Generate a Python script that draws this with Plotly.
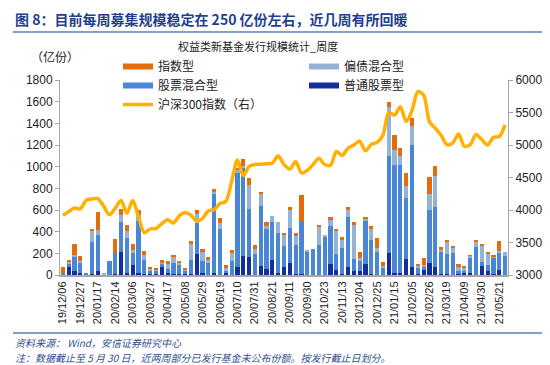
import plotly.graph_objects as go

dates = ["19/12/06","19/12/13","19/12/20","19/12/27","20/01/03","20/01/10","20/01/17","20/01/23",
         "20/02/07","20/02/14","20/02/21","20/02/28","20/03/06","20/03/13","20/03/20","20/03/27",
         "20/04/03","20/04/10","20/04/17","20/04/24","20/04/30","20/05/08","20/05/15","20/05/22",
         "20/05/29","20/06/05","20/06/12","20/06/19","20/06/24","20/07/03","20/07/10","20/07/17",
         "20/07/24","20/07/31","20/08/07","20/08/14","20/08/21","20/08/28","20/09/04","20/09/11",
         "20/09/18","20/09/25","20/09/30","20/10/09","20/10/16","20/10/23","20/10/30","20/11/06",
         "20/11/13","20/11/20","20/11/27","20/12/04","20/12/11","20/12/18","20/12/25","20/12/31",
         "21/01/08","21/01/15","21/01/22","21/01/29","21/02/05","21/02/10","21/02/19","21/02/26",
         "21/03/05","21/03/12","21/03/19","21/03/26","21/04/02","21/04/09","21/04/16","21/04/23",
         "21/04/30","21/05/07","21/05/14","21/05/21","21/05/28"]

# 普通股票型
common_stock = [5,70,35,18,5,12,40,0,0,10,210,18,90,18,5,8,5,77,18,5,10,12,5,194,18,0,18,0,18,0,
                70,172,166,0,80,58,141,18,70,110,12,8,0,0,0,0,101,43,9,71,40,40,101,10,0,0,
                203,20,18,147,70,10,49,111,74,9,5,0,9,18,18,0,80,34,8,43,0]
# 股票混合型
stock_mixed = [10,40,130,90,8,290,325,5,125,195,283,323,117,483,136,30,35,25,37,106,86,28,135,286,114,108,
               730,427,22,132,875,820,442,197,553,369,347,369,194,323,267,490,220,243,280,347,347,154,240,461,
               108,92,393,310,212,70,891,997,999,562,1131,60,30,492,550,209,192,203,25,21,144,255,40,61,155,169,178]
# 偏债混合型
bond_mixed = [0,10,22,25,0,108,46,12,0,0,58,68,25,55,40,18,10,15,50,52,15,12,145,83,80,30,
              21,52,25,77,25,18,224,46,117,28,58,98,108,166,89,0,8,0,166,21,65,206,80,71,
              316,25,31,108,37,12,461,138,86,114,175,18,15,147,286,15,114,52,43,25,18,49,144,101,5,12,34]
# 指数型
index_fund = [60,18,100,40,0,15,170,0,0,125,62,55,50,43,37,22,15,18,20,25,18,12,30,37,25,25,
              21,46,25,18,15,58,61,31,15,31,0,0,12,25,18,240,0,0,18,0,18,21,18,21,
              25,55,15,21,92,37,40,138,68,123,71,12,61,154,92,25,9,15,28,21,3,21,25,15,15,86,0]
# 沪深300指数
hs300 = [3918,3975,4030,4018,4150,4170,4175,4060,3927,4030,4145,3950,4145,3890,3650,3710,
         3715,3790,3850,3800,3910,3960,3920,3830,3870,3990,4005,4100,4130,4440,4770,4530,
         4670,4700,4705,4710,4720,4835,4700,4630,4745,4570,4610,4700,4795,4700,4690,4900,
         4840,4950,5000,5060,4910,5010,5040,5150,5500,5460,5590,5360,5530,5820,5770,5360,
         5260,5150,5005,5030,5170,4980,5005,5160,5080,5000,5120,5130,5310]

tick_labels = dates[::3]

C_IDX = "#E46C0A"
C_BOND = "#95B3D7"
C_MIX = "#4A86D6"
C_COMMON = "#13309A"
C_LINE = "#FFB000"

FONT = "Liberation Sans, Arial, Noto Sans CJK SC, sans-serif"
CJK = "Noto Sans CJK SC, sans-serif"

PT, PH, PL, PW = 72, 195, 52, 448


def py(ypix):
    return 1 + (PT - ypix) / PH


def px(xpix):
    return (xpix - PL) / PW


fig = go.Figure()
for name, vals, col in [("普通股票型", common_stock, C_COMMON), ("股票混合型", stock_mixed, C_MIX),
                        ("偏债混合型", bond_mixed, C_BOND), ("指数型", index_fund, C_IDX)]:
    fig.add_trace(go.Bar(x=dates, y=vals, name=name, marker=dict(color=col, line=dict(width=0)),
                         showlegend=False))

# legend entries (Excel-style thick bar symbols)
for name, col in [("指数型", C_IDX), ("偏债混合型", C_BOND), ("股票混合型", C_MIX), ("普通股票型", C_COMMON)]:
    fig.add_trace(go.Scatter(x=[None], y=[None], mode="lines", name=name,
                             line=dict(color=col, width=6), showlegend=True))

fig.add_trace(go.Scatter(x=dates, y=hs300, name="沪深300指数（右）", mode="lines", yaxis="y2",
                         line=dict(color=C_LINE, width=3.5, shape="spline", smoothing=0.8)))

fig.update_layout(
    width=550, height=365,
    margin=dict(l=PL, r=50, t=PT, b=98),
    paper_bgcolor="white", plot_bgcolor="white",
    barmode="stack", bargap=0.28,
    font=dict(family=FONT, size=12, color="#222"),
    xaxis=dict(type="category", categoryorder="array", categoryarray=dates,
               tickmode="array", tickvals=tick_labels, ticktext=tick_labels,
               tickangle=-90, tickfont=dict(size=11, color="#222"),
               showline=True, linecolor="#A6A6A6", linewidth=2, ticks="", showgrid=False,
               range=[-0.5, len(dates) - 0.5], automargin=False),
    yaxis=dict(range=[0, 1800], dtick=200, showgrid=False, showline=True, linecolor="#A6A6A6",
               linewidth=1, ticks="outside", ticklen=4, tickcolor="#A6A6A6",
               tickfont=dict(size=12, color="#222"), zeroline=False, automargin=False),
    yaxis2=dict(range=[3000, 6000], dtick=500, overlaying="y", side="right", showgrid=False,
                showline=True, linecolor="#A6A6A6", linewidth=1, ticks="outside", ticklen=4,
                tickcolor="#A6A6A6", tickfont=dict(size=12, color="#222"), zeroline=False,
                automargin=False),
    legend=dict(orientation="h", x=px(110), xanchor="left", y=py(44), yanchor="top",
                entrywidth=141, entrywidthmode="pixels", bgcolor="rgba(0,0,0,0)",
                traceorder="normal",
                font=dict(family=CJK, size=12, color="#222"), itemclick=False, tracegroupgap=0),
)

# title line
fig.add_annotation(xref="paper", yref="paper", x=px(5), y=py(11), xanchor="left",
                   yanchor="middle", showarrow=False,
                   text="<b>图 8：目前每周募集规模稳定在 250 亿份左右，近几周有所回暖</b>",
                   font=dict(family=CJK, size=14, color="#1F3F8F"))
fig.add_shape(type="line", xref="paper", yref="paper", x0=px(5), x1=px(547),
              y0=py(24), y1=py(24), line=dict(color="#5B7DB8", width=1.5))
# chart title
fig.add_annotation(xref="paper", yref="paper", x=px(250), y=py(38),
                   xanchor="center", yanchor="middle", showarrow=False,
                   text="权益类新基金发行规模统计_周度", font=dict(family=CJK, size=11, color="#222"))
# axis unit
fig.add_annotation(xref="paper", yref="paper", x=px(47), y=py(48),
                   xanchor="center", yanchor="middle", showarrow=False,
                   text="（亿份）", font=dict(family=CJK, size=12, color="#222"))
# footer
fig.add_shape(type="line", xref="paper", yref="paper", x0=px(5), x1=px(547),
              y0=py(325), y1=py(325), line=dict(color="#5B7DB8", width=1.5))
fig.add_annotation(xref="paper", yref="paper", x=px(5), y=py(334), xanchor="left",
                   yanchor="middle", showarrow=False,
                   text="<i>资料来源： Wind，安信证券研究中心</i>",
                   font=dict(family=CJK, size=10, color="#2F4F8F"))
fig.add_annotation(xref="paper", yref="paper", x=px(5), y=py(349), xanchor="left",
                   yanchor="middle", showarrow=False,
                   text="<i>注：数据截止至 5 月 30 日，近两周部分已发行基金未公布份额。按发行截止日划分。</i>",
                   font=dict(family=CJK, size=10, color="#2F4F8F"))

fig.write_html("out.html")
